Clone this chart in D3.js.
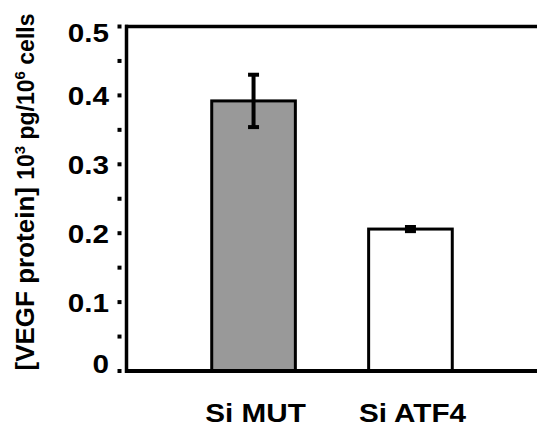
<!DOCTYPE html>
<html><head><meta charset="utf-8">
<script src="https://cdn.jsdelivr.net/npm/d3@7"></script>
<style>html,body{margin:0;padding:0;background:#fff;}svg{display:block;}</style>
</head><body>
<svg id="c" width="537" height="431"></svg>
<script>
const categories = ["Si MUT", "Si ATF4"];
const values = [0.392, 0.206];
const errors = [0.038, 0.003];
const fills = ["#999999", "#ffffff"];
const majorTicks = [0, 0.1, 0.2, 0.3, 0.4, 0.5];
const tickLabels = ["0", "0.1", "0.2", "0.3", "0.4", "0.5"];
const minorTicks = [0.05, 0.15, 0.25, 0.35, 0.45];

const svg = d3.select("#c");
const font = "'Liberation Sans', Arial, Helvetica, sans-serif";
const y = d3.scaleLinear().domain([0, 0.5]).range([371, 26.5]);
const x = d3.scaleBand().domain(categories).range([127, 537]).paddingInner(0.467).paddingOuter(0.54);

// bars
svg.selectAll("rect.bar").data(categories).join("rect")
  .attr("class", "bar")
  .attr("x", d => x(d))
  .attr("width", x.bandwidth())
  .attr("y", (d, i) => y(values[i]))
  .attr("height", (d, i) => y(0) - y(values[i]))
  .attr("fill", (d, i) => fills[i])
  .attr("stroke", "#000").attr("stroke-width", 3);

// error bars
const eb = svg.selectAll("g.eb").data(categories).join("g").attr("class", "eb");
eb.append("line")
  .attr("x1", d => x(d) + x.bandwidth() / 2).attr("x2", d => x(d) + x.bandwidth() / 2)
  .attr("y1", (d, i) => y(values[i] + errors[i])).attr("y2", (d, i) => y(values[i] - errors[i]))
  .attr("stroke", "#000").attr("stroke-width", 4);
eb.each(function(d, i) {
  const g = d3.select(this);
  const cx = x(d) + x.bandwidth() / 2;
  [values[i] + errors[i], values[i] - errors[i]].forEach(v => {
    g.append("line").attr("x1", cx - 5.5).attr("x2", cx + 5.5)
      .attr("y1", y(v)).attr("y2", y(v))
      .attr("stroke", "#000").attr("stroke-width", 4);
  });
});

// frame lines
svg.append("line").attr("x1", 125).attr("x2", 537).attr("y1", y(0.5)).attr("y2", y(0.5))
  .attr("stroke", "#000").attr("stroke-width", 3.5);
svg.append("line").attr("x1", 125).attr("x2", 537).attr("y1", y(0)).attr("y2", y(0))
  .attr("stroke", "#000").attr("stroke-width", 4);
svg.append("line").attr("x1", 126.5).attr("x2", 126.5).attr("y1", y(0.5) - 1.75).attr("y2", y(0) + 2)
  .attr("stroke", "#000").attr("stroke-width", 3.5);

// tick dots
svg.selectAll("rect.tk").data(majorTicks.concat(minorTicks)).join("rect")
  .attr("class", "tk")
  .attr("x", 117.5).attr("width", 4)
  .attr("y", d => y(d) - 2).attr("height", 4)
  .attr("fill", "#000");

// tick labels
svg.selectAll("text.tl").data(majorTicks).join("text")
  .attr("class", "tl")
  .attr("transform", d => `translate(109,${Math.max(32, Math.min(363.5, y(d)))}) scale(1.12,1)`)
  .attr("text-anchor", "end").attr("dy", "0.36em")
  .attr("font-family", font).attr("font-weight", "bold").attr("font-size", 26.5)
  .text((d, i) => tickLabels[i]);

// x labels
svg.selectAll("text.xl").data(categories).join("text")
  .attr("class", "xl")
  .attr("transform", d => `translate(${x(d) + x.bandwidth() / 2 + 2},421.5) scale(1.12,1)`)
  .attr("text-anchor", "middle")
  .attr("font-family", font).attr("font-weight", "bold").attr("font-size", 26.5)
  .text(d => d);

// y title
const t = svg.append("text")
  .attr("transform", "translate(34,192) rotate(-90)")
  .attr("text-anchor", "middle")
  .attr("font-family", font).attr("font-weight", "bold").attr("font-size", 26);
t.append("tspan").text("[VEGF protein] ");
t.append("tspan").attr("font-size", 23).text("10");
t.append("tspan").attr("font-size", 15).attr("dy", -9).text("3");
t.append("tspan").attr("font-size", 23).attr("dy", 9).text(" pg/10");
t.append("tspan").attr("font-size", 15).attr("dy", -9).text("6");
t.append("tspan").attr("font-size", 23).attr("dy", 9).text(" cells");
</script>
</body></html>
